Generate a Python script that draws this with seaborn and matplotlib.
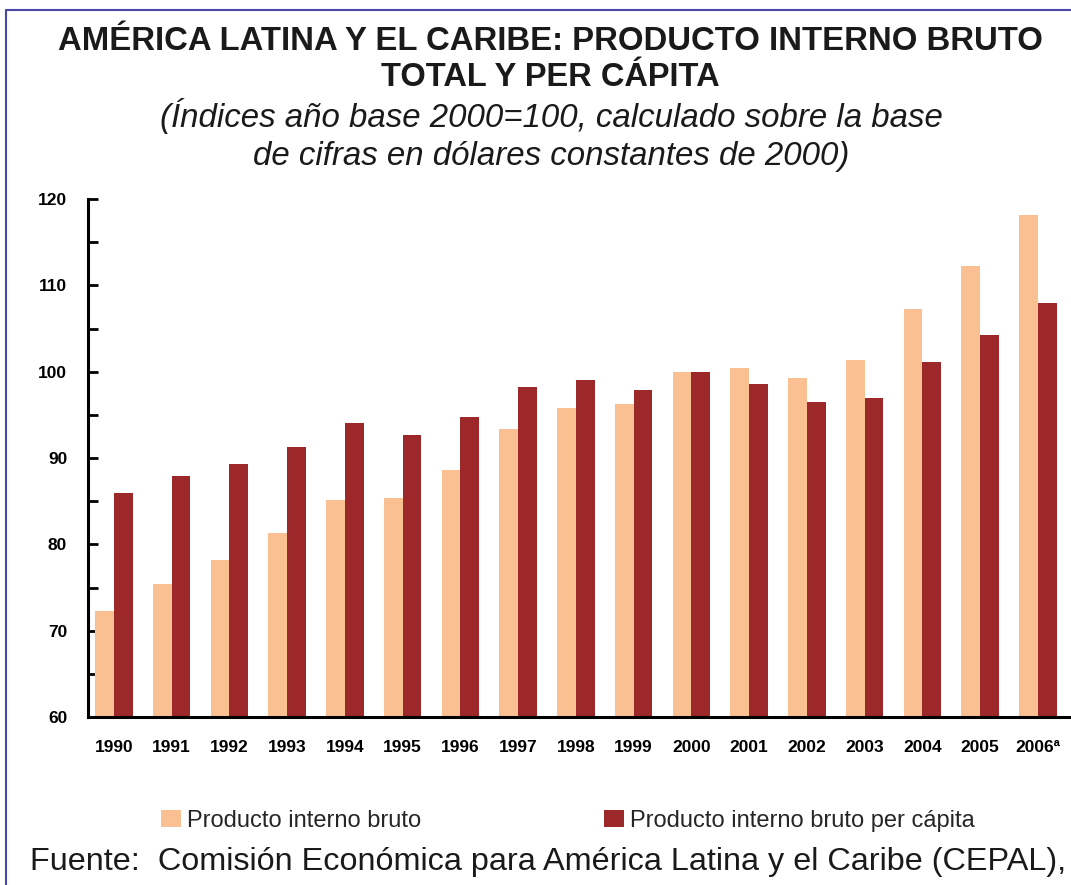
import matplotlib
matplotlib.use("Agg")
import matplotlib.pyplot as plt
import seaborn as sns
import pandas as pd
from matplotlib.lines import Line2D

years = ["1990", "1991", "1992", "1993", "1994", "1995", "1996", "1997", "1998",
         "1999", "2000", "2001", "2002", "2003", "2004", "2005", "2006ª"]
pib_total = [72.3, 75.4, 78.2, 81.3, 85.1, 85.4, 88.6, 93.4, 95.8,
             96.2, 100.0, 100.4, 99.3, 101.4, 107.3, 112.2, 118.1]
pib_per_capita = [85.9, 87.9, 89.3, 91.3, 94.1, 92.7, 94.7, 98.2, 99.0,
                  97.9, 100.0, 98.6, 96.5, 96.9, 101.1, 104.2, 108.0]
series_names = ["Producto interno bruto", "Producto interno bruto per cápita"]
colors = ["#FAC092", "#9C2829"]

df = pd.DataFrame({
    "year": years * 2,
    "value": pib_total + pib_per_capita,
    "serie": [series_names[0]] * len(years) + [series_names[1]] * len(years),
})

sns.set_theme(style="white")
narrow = ["Liberation Sans Narrow", "Liberation Sans", "DejaVu Sans"]
plt.rcParams["font.family"] = ["Liberation Sans", "DejaVu Sans"]

W, H = 1071, 885
fig = plt.figure(figsize=(W / 100, H / 100), dpi=100)
ax = fig.add_axes([88 / W, (H - 717) / H, 981 / W, 518 / H])

sns.barplot(data=df, x="year", y="value", hue="serie", hue_order=series_names,
            palette=colors, width=0.65, saturation=1, ax=ax, edgecolor="none",
            linewidth=0)

ax.set_ylim(60, 120)
ax.set_xlim(-0.45, 16.54)
ax.set_yticks([60, 70, 80, 90, 100, 110, 120])
ax.set_yticks([65, 75, 85, 95, 105, 115], minor=True)
ax.set_xlabel("")
ax.set_ylabel("")
for s in ["top", "right"]:
    ax.spines[s].set_visible(False)
for s in ["left", "bottom"]:
    ax.spines[s].set_linewidth(2.2)
    ax.spines[s].set_color("black")
ax.tick_params(axis="y", which="both", direction="in", length=7, width=2,
               left=True, pad=15, labelsize=12.5, colors="black")
ax.tick_params(axis="x", length=0, pad=16.5, labelsize=12.5, colors="black")
for lab in ax.get_xticklabels() + ax.get_yticklabels():
    lab.set_fontweight("bold")

sns.move_legend(ax, "center left", bbox_to_anchor=(149 / W, 1 - 821 / H),
                bbox_transform=fig.transFigure, ncol=2, frameon=False, title=None,
                fontsize=17, handlelength=0.85, handleheight=0.72, borderpad=0,
                handletextpad=0.25, columnspacing=7.75)
for t in ax.get_legend().get_texts():
    t.set_family(narrow)

fig.text(550 / W, 1 - 41 / H, "AMÉRICA LATINA Y EL CARIBE: PRODUCTO INTERNO BRUTO",
         ha="center", va="center", fontsize=23.7, fontweight="bold", family=narrow,
         color="#1a1a1a")
fig.text(550 / W, 1 - 77 / H, "TOTAL Y PER CÁPITA",
         ha="center", va="center", fontsize=23.5, fontweight="bold", family=narrow,
         color="#1a1a1a")
fig.text(551 / W, 1 - 116 / H, "(Índices año base 2000=100, calculado sobre la base",
         ha="center", va="center", fontsize=23.8, style="italic", family=narrow,
         color="#1a1a1a")
fig.text(551 / W, 1 - 156 / H, "de cifras en dólares constantes de 2000)",
         ha="center", va="center", fontsize=23.8, style="italic", family=narrow,
         color="#1a1a1a")
fig.text(30 / W, 1 - 862 / H,
         "Fuente:  Comisión Económica para América Latina y el Caribe (CEPAL),",
         ha="left", va="center", fontsize=23.3, family=narrow, color="#1a1a1a")

# page frame lines
fig.add_artist(Line2D([6 / W, 6 / W], [0, 1 - 10 / H], transform=fig.transFigure,
                      color="#4848A8", lw=1.5))
fig.add_artist(Line2D([6 / W, 1], [1 - 10 / H, 1 - 10 / H], transform=fig.transFigure,
                      color="#4848A8", lw=1.5))

fig.savefig("out.png", dpi=100)
